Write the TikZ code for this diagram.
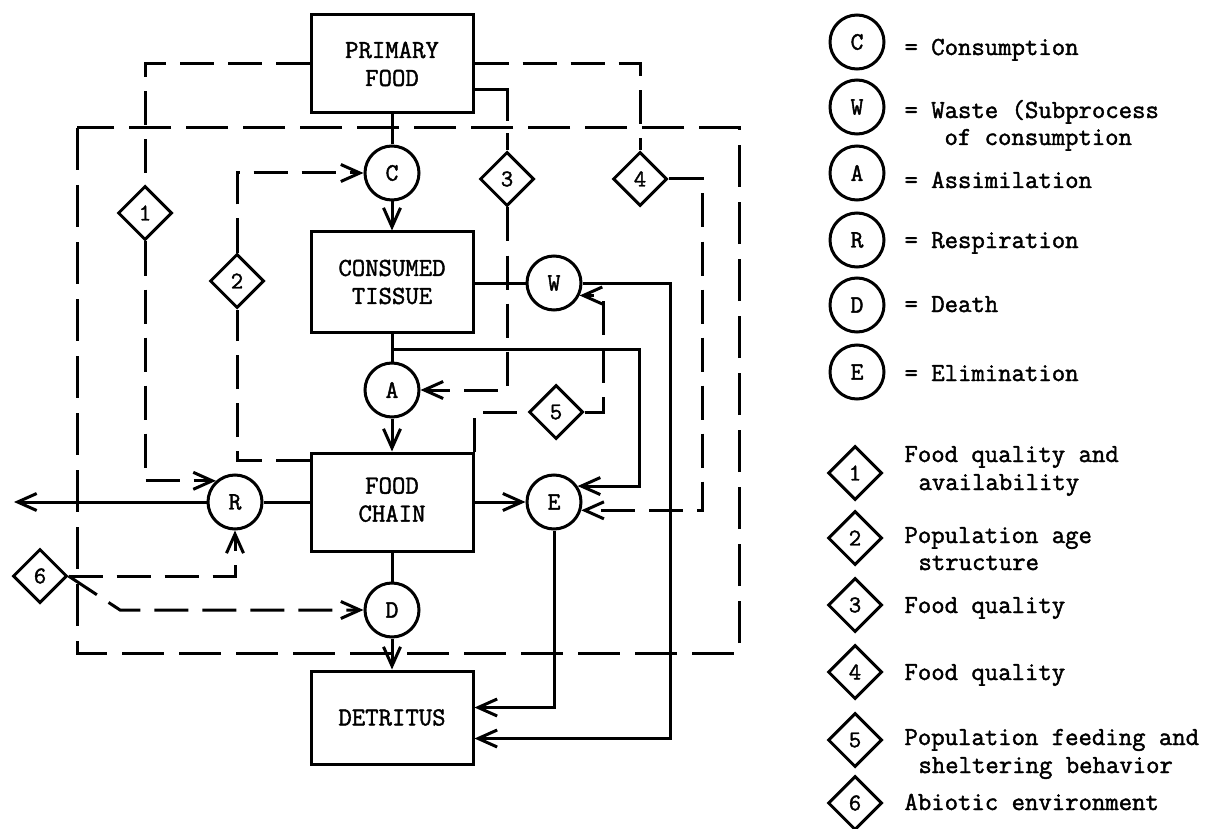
\documentclass[tikz,border=0pt]{standalone}
\usepackage{fontspec}
\setmonofont{Latin Modern Mono}[FakeBold=1.6]
\usetikzlibrary{shapes.geometric,arrows.meta}

\begin{document}
\begin{tikzpicture}[x=1pt,y=-1pt,
  line width=3pt, line join=miter,
  every node/.style={font=\ttfamily\bfseries\fontsize{26}{28}\selectfont},
  box/.style={draw, rectangle, minimum width=162pt, inner sep=0pt, align=center},
  proc/.style={draw, circle, minimum size=54pt, inner sep=0pt,
    font=\ttfamily\bfseries\fontsize{25}{27}\selectfont},
  factor/.style={draw, diamond, minimum width=54pt, minimum height=54pt, inner sep=0pt,
    font=\ttfamily\bfseries\fontsize{24}{26}\selectfont},
  flow/.style={-{Straight Barb[length=19pt,width=17pt]}},
  ctrl/.style={dash pattern=on 34pt off 14pt},
  border/.style={dash pattern=on 42pt off 15pt},
  leg/.style={anchor=base west, inner sep=0pt}
]
\useasboundingbox (0,0) rectangle (1210,829);

% compartments
\node[box, minimum height=98pt] (PF) at (392,64) {PRIMARY\\FOOD};
\node[box, minimum height=100pt] (CT) at (392,282) {CONSUMED\\TISSUE};
\node[box, minimum height=98pt] (FC) at (392,502) {\raisebox{6pt}{\begin{tabular}{@{}c@{}}FOOD\\CHAIN\end{tabular}}};
\node[box, minimum height=93pt] (DET) at (392,717.5) {\raisebox{-6pt}{DETRITUS}};

% processes
\node[proc] (C) at (392,173) {C};
\node[proc] (W) at (554,283) {W};
\node[proc] (A) at (392,390) {A};
\node[proc] (R) at (235,502) {R};
\node[proc] (E) at (554,502) {E};
\node[proc] (D) at (392,610) {D};

% controlling factors
\node[factor] (d1) at (145,213) {1};
\node[factor] (d2) at (237,281) {2};
\node[factor] (d3) at (507,179) {3};
\node[factor] (d4) at (640,179) {4};
\node[factor] (d5) at (556,412) {5};
\node[factor] (d6) at (40,576) {6};

% bend columns and the free end of the respiration loss
\coordinate (k4) at (702,0);
\coordinate (k5) at (603,0);
\coordinate (k6) at (639,0);
\coordinate (k7) at (670,0);
\coordinate (k8) at (120,0);
\coordinate (out) at (14,502);

% population boundary
\draw[border] (77,128) rectangle (739,653);

% material flows
\draw (PF.south) -- (C.north);
\draw[flow] (C.south) -- (CT.north);
\draw (CT.south) -- (A.north);
\draw[flow] (A.south) -- (FC.north);
\draw (FC.south) -- (D.north);
\draw[flow] (D.south) -- (DET.north);
\draw (CT.east |- W.west) -- (W.west);
\draw (FC.west) -- (R.east);
\draw[flow] (R.west) -- (out);
\draw[flow] (FC.east) -- (E.west);
\draw[flow] ([yshift=-16pt]CT.south) -| (k6 |- E.34) -- (E.34);
\draw[flow] (W.east) -- (W.east -| k7) |- ([yshift=-21pt]DET.east);
\draw[flow] (E.south) |- ([yshift=10pt]DET.east);

% controls
\draw[ctrl] (PF.west) -| (d1.north);
\draw[ctrl, flow] (d1.south) |- (R.132);
\draw[ctrl] ([yshift=-9pt]FC.north west) -| (d2.south);
\draw[ctrl, flow] (d2.north) |- (C.west);
\draw[dash pattern=on 64pt off 12pt on 40pt] ([yshift=-26pt]PF.east) -| (d3.north);
\draw[ctrl, flow] (d3.south) |- (A.east);
\draw[ctrl] (PF.east) -| (d4.north);
\draw[ctrl, flow] (d4.east) -| (k4 |- E.-17) -- (E.-17);
\draw[ctrl] (FC.north east) |- (d5.west);
\draw[ctrl, flow] (d5.east) -| (k5 |- W.-26) -- (W.-26);
\draw[ctrl, flow] (d6.east) -| (R.south);
\draw[ctrl, flow] (d6.east) -- (k8 |- D.west) -- (D.west);

% key to processes
\node[proc] (lC) at (857,42) {C};
\node[proc] (lW) at (857,107) {W};
\node[proc] (lA) at (857,173) {A};
\node[proc] (lR) at (857,240) {R};
\node[proc] (lD) at (857,305) {D};
\node[proc] (lE) at (857,372) {E};
\node[leg] (tC) at (903,55) {= Consumption};
\node[leg] (tW) at (903,118) {= Waste (Subprocess};
\node[leg] (tW2) at (943,145) {of consumption};
\node[leg] (tA) at (903,188) {= Assimilation};
\node[leg] (tR) at (903,248) {= Respiration};
\node[leg] (tD) at (903,312) {= Death};
\node[leg] (tE) at (903,381) {= Elimination};

% key to controlling factors
\node[factor] (l1) at (855,473) {1};
\node[factor] (l2) at (855,538) {2};
\node[factor] (l3) at (855,605) {3};
\node[factor] (l4) at (855,672) {4};
\node[factor] (l5) at (855,740) {5};
\node[factor] (l6) at (855,803) {6};
\node[leg] (t1) at (903,462) {Food quality and};
\node[leg] (t1b) at (917,490) {availability};
\node[leg] (t2) at (903,543) {Population age};
\node[leg] (t2b) at (917,570) {structure};
\node[leg] (t3) at (903,613) {Food quality};
\node[leg] (t4) at (903,680) {Food quality};
\node[leg] (t5) at (903,745) {Population feeding and};
\node[leg] (t5b) at (917,773) {sheltering behavior};
\node[leg] (t6) at (903,810) {Abiotic environment};
\end{tikzpicture}
\end{document}
